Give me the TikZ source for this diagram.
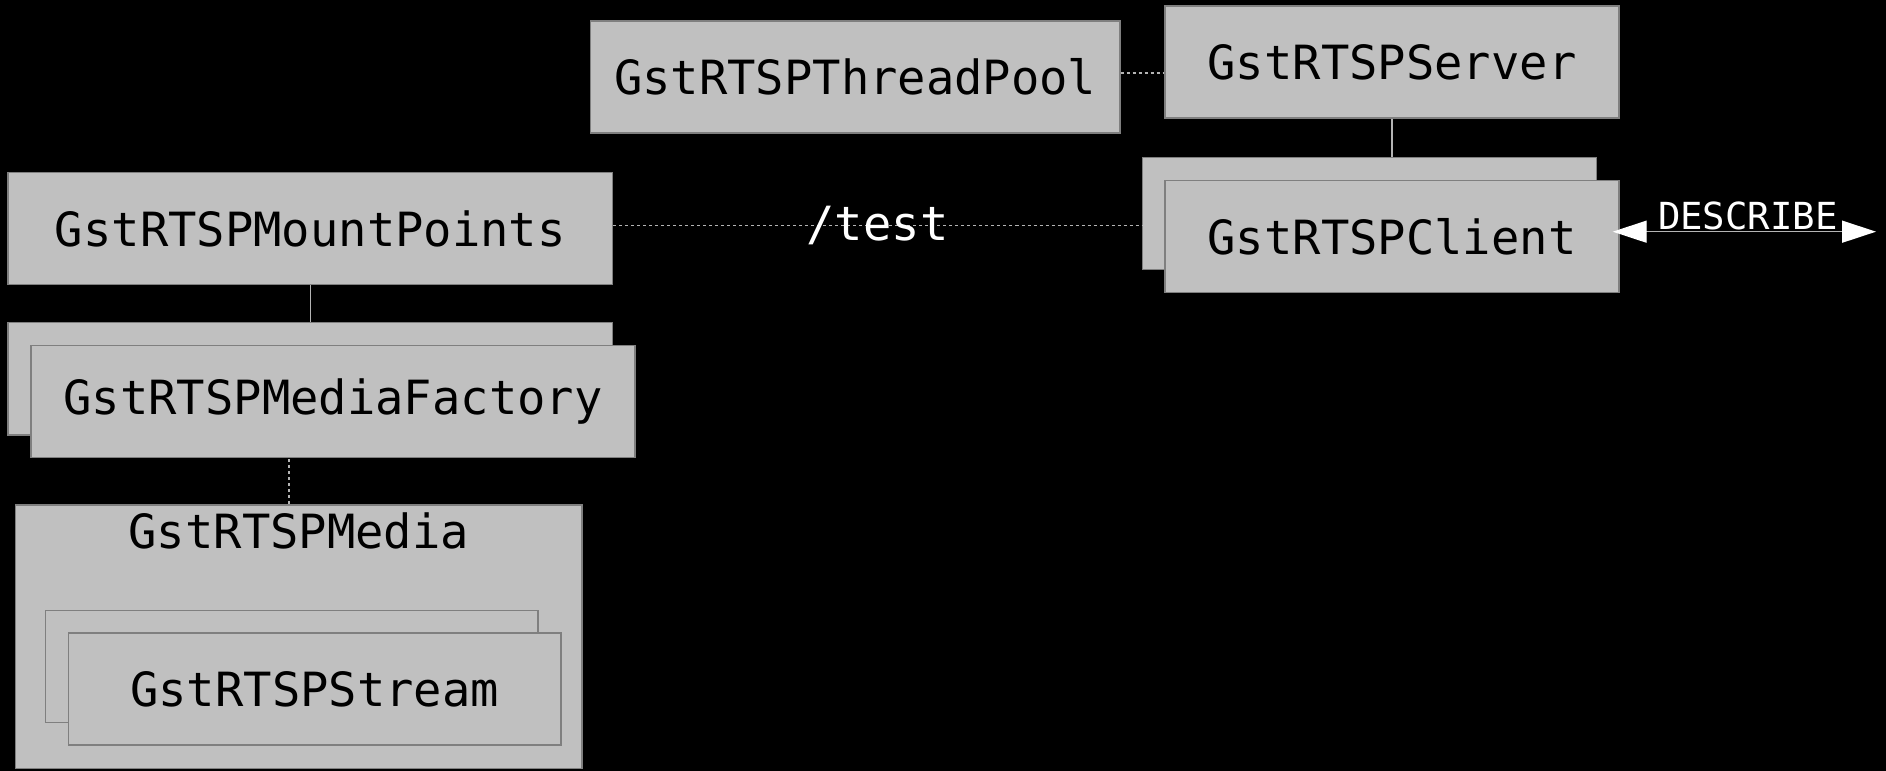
\documentclass[tikz,border=0pt]{standalone}
\usepackage{fontspec}
\setmonofont{DejaVu Sans Mono}
\usepackage{tikz}
\usetikzlibrary{arrows.meta,positioning,calc}
\definecolor{boxfill}{HTML}{C0C0C0}
\definecolor{boxline}{HTML}{7F7F7F}
\definecolor{linkgray}{HTML}{B4B4B4}
\newcommand{\boxfont}{\ttfamily\fontsize{13.4}{16}\selectfont}
\newcommand{\msgfont}{\ttfamily\fontsize{10.6}{12}\selectfont}

\begin{document}
\begin{tikzpicture}[x=0.01cm,y=-0.01cm,>={Triangle[width=0.22cm,length=0.34cm,color=white]},
  box/.style={draw=boxline,line width=0.45pt,fill=boxfill,minimum width=#1,minimum height=1.12cm,inner sep=0pt,font=\boxfont},
  box/.default=4.535cm,
  link/.style={draw=linkgray,line width=0.4pt},
  dots/.style={draw=linkgray,line width=0.4pt,dash pattern=on 0.03cm off 0.03cm}]
\fill[black] (0,0) rectangle (1886,771);
\node[box=5.29cm] (pool) at (855.2,77) {GstRTSPThreadPool};
\node[box] (srv) at (1392,62) {GstRTSPServer};
\node[box] (cb) at (1369.4,213.5) {};
\node[box] (cl) at ($(cb)+(22.6,22.9)$) {GstRTSPClient};
\node[box=6.04cm] (mp) at (310.3,228.5) {GstRTSPMountPoints};
\node[box=6.04cm] (fb) at (310.3,378.7) {};
\node[box=6.04cm] (ff) at ($(fb)+(22.7,22.8)$) {GstRTSPMediaFactory};
\node[box=5.664cm,minimum height=2.636cm,
  label={[font=\boxfont,anchor=north,inner sep=0pt,yshift=-0.08cm]north:GstRTSPMedia}] (med) at (298.8,636.8) {};
\node[box=4.92cm] (sb) at (291.7,666.5) {};
\node[box=4.92cm] (st) at ($(sb)+(22.9,22.7)$) {GstRTSPStream};
\coordinate (peer) at (1876,231.7);
\draw[dots] ([yshift=0.04cm]pool.east) -- ([yshift=0.04cm]pool.east -| srv.west);
\draw[link] (srv.south) -- (srv.south |- cb.north);
\draw[dots] ([yshift=0.03cm]mp.east) -- node[font=\boxfont,text=white,inner sep=0pt]{/test} ([yshift=0.03cm]mp.east -| cb.west);
\draw[link] (mp.south) -- (mp.south |- fb.north);
\draw[dots] ([xshift=-0.1cm]med.north) -- ([xshift=-0.1cm]med.north |- ff.south);
\draw[link,<->,shorten <=-0.07cm] (cl.east |- peer) -- node[above,font=\msgfont,text=white,inner sep=0.01cm]{DESCRIBE} (peer);
\end{tikzpicture}
\end{document}
